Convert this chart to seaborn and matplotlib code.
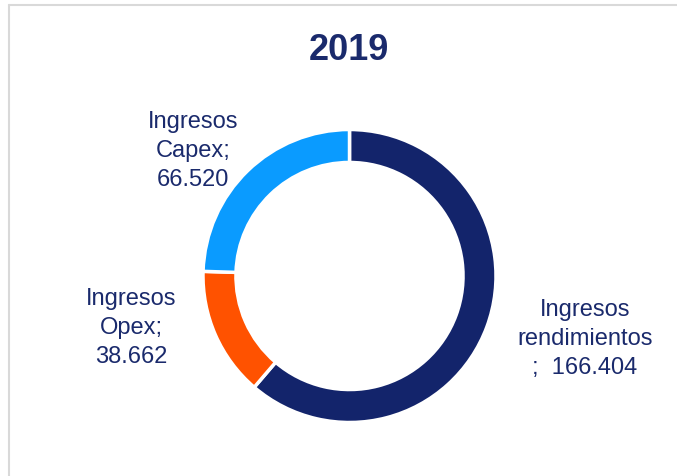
import matplotlib
matplotlib.use("Agg")
import matplotlib.pyplot as plt
import seaborn as sns

sns.set_theme(style="white")
plt.rcParams['font.family'] = ['Liberation Sans', 'DejaVu Sans']

# data
title = "2019"
categories = ["Ingresos\nrendimientos\n;  166.404", "Ingresos\nOpex;\n38.662", "Ingresos\nCapex;\n66.520"]
values = [166.404, 38.662, 66.520]
colors = ["#13246b", "#ff5200", "#0a9bff"]
text_color = "#1a2a6c"

fig = plt.figure(figsize=(6.77, 4.76), dpi=100)
ax = fig.add_axes([0, 0, 1, 1])

# frame lines (top and left)
ax.plot([9, 677], [471, 471], color="#d9d9d9", lw=1.5)
ax.plot([9, 9], [0, 471], color="#d9d9d9", lw=1.5)

cx, cy, r = 349.5, 200, 146.5
wedges, _ = ax.pie(values, colors=colors, startangle=90, counterclock=False,
                   center=(cx, cy), radius=r, frame=True,
                   wedgeprops=dict(width=r * 0.225, edgecolor="white", linewidth=2.5))
ax.set_xlim(0, 677)
ax.set_ylim(0, 476)
ax.set_aspect("auto")
ax.axis("off")

label_pos = [(585, 137), (131, 148), (193, 325)]
for lab, (x, y) in zip(categories, label_pos):
    ax.text(x, y, lab, ha="center", va="center", fontsize=17, color=text_color,
            linespacing=1.4)

ax.text(349, 426, title, ha="center", va="center", fontsize=26, fontweight="bold",
        color=text_color)

fig.savefig("out.png", dpi=100)
